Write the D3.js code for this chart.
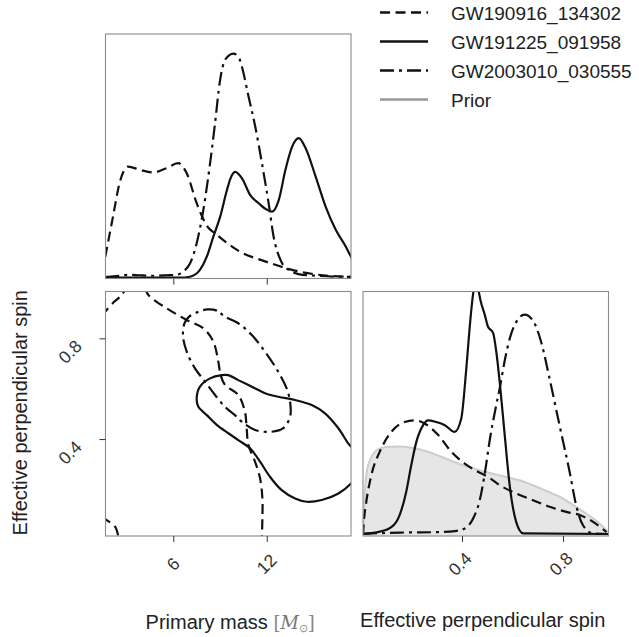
<!DOCTYPE html>
<meta charset="utf-8">
<style>
  body { margin: 0; background: #fff; }
  svg { font-family: "Liberation Sans", Arial, sans-serif; }
  .box { fill: none; stroke: #8a8a8a; stroke-width: 1.1px; }
  .tick line { stroke: #333; }
  .curve { fill: none; stroke: #111; stroke-width: 2.2px; stroke-linecap: butt; }
  .label { fill: #222; font-size: 20px; }
  .legtext { fill: #222; font-size: 19px; }
  .ticklab { fill: #333; font-size: 17.5px; }
</style>

<body>
  <script src="https://d3js.org/d3.v7.min.js"></script>
  <script>
    // event names and ticks
    var events = ["GW190916_134302", "GW191225_091958", "GW2003010_030555"];
    var massTicks = [6, 12];
    var spinTicks = [0.4, 0.8];

    // primary mass marginals [mass, density]
    var mass190916 = [[1.63, .088], [2.12, .25], [2.55, .39], [3.09, .457], [3.84, .444], [4.70, .433],
      [5.57, .451], [6.31, .471], [6.86, .43], [7.5, .307], [7.8, .26], [8.15, .215], [8.75, .18],
      [9.33, .15], [10.04, .118], [10.4, .104], [11.47, .078], [12.55, .055], [13.63, .034],
      [15.33, .014], [17.45, .005]];
    var mass191225 = [[1.63, .002], [6.42, .002], [7.07, .006], [7.71, .034], [8.15, .088], [8.57, .17],
      [9.0, .25], [9.44, .36], [9.65, .405], [9.97, .435], [10.4, .41], [10.94, .34], [11.48, .307],
      [12.02, .28], [12.34, .273], [12.77, .32], [13.2, .444], [13.63, .539], [14.06, .574],
      [14.49, .533], [15.14, .416], [15.78, .293], [16.43, .198], [17.07, .13], [17.45, .082]];
    var mass2003010 = [[1.63, .005], [2.55, .01], [3.2, .014], [3.84, .012], [4.68, .01], [5.57, .012],
      [6.21, .014], [6.7, .03], [7.07, .06], [7.5, .143], [7.93, .28], [8.36, .47], [8.68, .635],
      [9.0, .81], [9.33, .895], [9.85, .92], [10.2, .905], [10.4, .867], [10.83, .744], [11.26, .621],
      [11.69, .471], [12.12, .307], [12.44, .17], [12.88, .075], [13.41, .034], [14.28, .014],
      [17.45, .005]];

    // effective perpendicular spin marginals [spin, density]
    var spin190916 = [[0.008, 0], [0.012, .06], [0.021, .134], [0.041, .244], [0.074, .34], [0.12, .422],
      [0.173, .463], [0.213, .47], [0.252, .457], [0.305, .41], [0.358, .34], [0.411, .292],
      [0.463, .258], [0.503, .237], [0.549, .203], [0.615, .169], [0.681, .141], [0.747, .114],
      [0.813, .093], [0.866, .08], [0.919, .052], [0.972, .01]];
    var spin191225 = [[0.008, .003], [0.067, .01], [0.12, .03], [0.153, .08], [0.179, .175], [0.199, .285],
      [0.219, .38], [0.246, .45], [0.265, .47], [0.298, .463], [0.332, .45], [0.371, .422],
      [0.397, .477], [0.417, .683], [0.431, .86], [0.444, .99], [0.455, 1.04], [0.466, 1.0],
      [0.474, .96], [0.49, .905], [0.503, .855], [0.523, .83], [0.536, .75], [0.549, .63],
      [0.569, .41], [0.589, .2], [0.615, .05], [0.642, .005], [0.98, .002]];
    var spin2003010 = [[0.008, .003], [0.155, .008], [0.313, .01], [0.372, .014], [0.411, .025],
      [0.444, .066], [0.47, .14], [0.49, .25], [0.51, .39], [0.535, .53], [0.549, .6], [0.57, .72],
      [0.59, .81], [0.615, .875], [0.648, .905], [0.681, .88], [0.714, .79], [0.747, .64],
      [0.786, .45], [0.826, .258], [0.852, .12], [0.879, .038], [0.919, .004], [0.98, .002]];
    var spinPrior = [[0.008, 0], [0.012, .1], [0.017, .2], [0.025, .27], [0.04, .315], [0.067, .35],
      [0.1, .36], [0.15, .362], [0.2, .357], [0.252, .345], [0.318, .32], [0.384, .292], [0.45, .27],
      [0.5, .256], [0.562, .24], [0.642, .218], [0.721, .185], [0.8, .148], [0.866, .104],
      [0.919, .066], [0.95, .04], [0.972, .018], [0.98, .01]];

    // 2D credible contours [mass, spin]
    var contour190916a = [[1.4, 0.89], [1.61, 0.905], [2.2, 0.945], [2.69, 0.972], [2.95, 1.0]];
    var contour190916b = [[4.2, 1.0], [4.4, 0.972], [5.58, 0.919], [6.86, 0.873], [7.93, 0.84],
      [8.57, 0.787], [8.89, 0.707], [9.04, 0.654], [9.32, 0.615], [10.17, 0.575], [10.6, 0.508],
      [10.71, 0.443], [10.82, 0.376], [11.25, 0.31], [11.57, 0.244], [11.72, 0.164], [11.72, 0.085],
      [11.68, 0.0]];
    var contour190916c = [[1.4, 0.09], [1.72, 0.078], [2.26, 0.052], [2.47, 0.012], [2.5, 0.0]];
    var contour191225 = [[9.11, 0.654], [8.36, 0.641], [7.71, 0.608], [7.5, 0.562], [7.61, 0.528],
      [8.15, 0.495], [8.79, 0.456], [9.53, 0.423], [10.17, 0.396], [10.93, 0.363], [11.57, 0.31],
      [12.21, 0.25], [12.96, 0.197], [13.82, 0.164], [14.57, 0.151], [15.53, 0.158], [16.6, 0.184],
      [17.41, 0.224], [17.8, 0.26], [18.0, 0.32], [17.8, 0.36], [17.41, 0.37], [16.6, 0.443],
      [15.74, 0.502], [14.89, 0.535], [13.82, 0.555], [12.74, 0.568], [11.89, 0.582], [11.04, 0.608],
      [10.17, 0.634], [9.53, 0.654]];
    var contour2003010 = [[9.32, 0.886], [8.8, 0.91], [8.2, 0.915], [7.6, 0.905], [7.0, 0.885],
      [6.72, 0.86], [6.62, 0.81], [6.86, 0.747], [7.39, 0.681], [8.04, 0.628], [8.68, 0.575],
      [9.32, 0.528], [9.96, 0.495], [10.39, 0.469], [11.25, 0.436], [12.32, 0.429], [13.06, 0.443],
      [13.5, 0.489], [13.5, 0.548], [13.28, 0.601], [12.74, 0.667], [11.89, 0.747], [11.04, 0.813],
      [10.17, 0.86]];

    // table built from the arrays above
    var series = [
      { name: events[0], dash: "10,5.5", mass: mass190916, spin: spin190916,
        open: [contour190916a, contour190916b, contour190916c], closed: [] },
      { name: events[1], dash: null, mass: mass191225, spin: spin191225,
        open: [], closed: [contour191225] },
      { name: events[2], dash: "14,5,3,5", mass: mass2003010, spin: spin2003010,
        open: [], closed: [contour2003010] }
    ];

    var width = 639, height = 637;

    // panel boxes
    var pTop = { x0: 105.5, x1: 351, y0: 34, y1: 278.5 },
      pBL = { x0: 105.5, x1: 351, y0: 291.5, y1: 536 },
      pBR = { x0: 363, x1: 608.5, y0: 291.5, y1: 536 };

    // scales
    var xMass = d3.scaleLinear().domain([1.645, 17.41]).range([pTop.x0, pTop.x1]);
    var yTop = d3.scaleLinear().domain([0, 1]).range([pTop.y1 - 0.3, pTop.y0]);
    var ySpin = d3.scaleLinear().domain([0.015, 0.986]).range([pBL.y1, pBL.y0]);
    var xSpin = d3.scaleLinear().domain([0.008, 0.98]).range([pBR.x0, pBR.x1]);
    var yBR = d3.scaleLinear().domain([0, 1]).range([pBR.y1 - 1.5, pBR.y0]);

    var svg = d3.select("body").append("svg")
      .attr("width", width)
      .attr("height", height);

    var defs = svg.append("defs");
    [["clipTop", pTop], ["clipBL", pBL], ["clipBR", pBR]].forEach(function(c) {
      defs.append("clipPath").attr("id", c[0]).append("rect")
        .attr("x", c[1].x0).attr("y", c[1].y0)
        .attr("width", c[1].x1 - c[1].x0).attr("height", c[1].y1 - c[1].y0);
    });

    // top panel: mass marginals
    var gTop = svg.append("g").attr("clip-path", "url(#clipTop)");
    var massLine = d3.line()
      .x(function(d) { return xMass(d[0]); })
      .y(function(d) { return yTop(d[1]); })
      .curve(d3.curveMonotoneX);
    gTop.selectAll("path").data(series).enter().append("path")
      .attr("class", "curve")
      .attr("stroke-dasharray", function(d) { return d.dash; })
      .attr("d", function(d) { return massLine(d.mass); });

    // bottom left: contours
    var gBL = svg.append("g").attr("clip-path", "url(#clipBL)");
    var openLine = d3.line()
      .x(function(d) { return xMass(d[0]); })
      .y(function(d) { return ySpin(d[1]); })
      .curve(d3.curveCatmullRom);
    var closedLine = d3.line()
      .x(function(d) { return xMass(d[0]); })
      .y(function(d) { return ySpin(d[1]); })
      .curve(d3.curveCatmullRomClosed);
    series.forEach(function(s) {
      s.open.forEach(function(c) {
        gBL.append("path").attr("class", "curve")
          .attr("stroke-dasharray", s.dash).attr("d", openLine(c));
      });
      s.closed.forEach(function(c) {
        gBL.append("path").attr("class", "curve")
          .attr("stroke-dasharray", s.dash).attr("d", closedLine(c));
      });
    });

    // bottom right: spin marginals with prior
    var gBR = svg.append("g").attr("clip-path", "url(#clipBR)");
    var priorArea = d3.area()
      .x(function(d) { return xSpin(d[0]); })
      .y0(yBR(0) + 2)
      .y1(function(d) { return yBR(d[1]); })
      .curve(d3.curveMonotoneX);
    var spinLine = d3.line()
      .x(function(d) { return xSpin(d[0]); })
      .y(function(d) { return yBR(d[1]); })
      .curve(d3.curveMonotoneX);
    gBR.append("path")
      .attr("d", priorArea(spinPrior))
      .attr("fill", "#e6e6e6");
    gBR.append("path")
      .attr("d", spinLine(spinPrior))
      .attr("fill", "none")
      .attr("stroke", "#cdcdcd")
      .attr("stroke-width", 2);
    gBR.selectAll("path.curve").data(series).enter().append("path")
      .attr("class", "curve")
      .attr("stroke-dasharray", function(d) { return d.dash; })
      .attr("d", function(d) { return spinLine(d.spin); });

    // frames
    [pTop, pBL, pBR].forEach(function(p) {
      svg.append("rect").attr("class", "box")
        .attr("x", p.x0).attr("y", p.y0)
        .attr("width", p.x1 - p.x0).attr("height", p.y1 - p.y0);
    });

    // axes (ticks only)
    function ticksOnly(g) {
      g.select(".domain").remove();
      g.selectAll("text").remove();
    }
    svg.append("g").attr("transform", "translate(0," + pTop.y1 + ")")
      .call(d3.axisBottom(xMass).tickValues(massTicks).tickSize(6)).call(ticksOnly);
    svg.append("g").attr("transform", "translate(0," + pBL.y1 + ")")
      .call(d3.axisBottom(xMass).tickValues(massTicks).tickSize(6)).call(ticksOnly);
    svg.append("g").attr("transform", "translate(" + pBL.x0 + ",0)")
      .call(d3.axisLeft(ySpin).tickValues(spinTicks).tickSize(6)).call(ticksOnly);
    svg.append("g").attr("transform", "translate(0," + pBR.y1 + ")")
      .call(d3.axisBottom(xSpin).tickValues(spinTicks).tickSize(6)).call(ticksOnly);

    // rotated tick labels
    function tickLabels(vals, px, py) {
      svg.append("g").selectAll("text").data(vals).enter().append("text")
        .attr("class", "ticklab")
        .attr("text-anchor", "middle")
        .attr("dominant-baseline", "central")
        .attr("transform", function(d) {
          return "translate(" + px(d) + "," + py(d) + ") rotate(-45)";
        })
        .text(function(d) { return d; });
    }
    tickLabels(massTicks, function(d) { return xMass(d); }, function() { return 564; });
    tickLabels(spinTicks, function(d) { return xSpin(d) - 2; }, function() { return 564; });
    tickLabels(spinTicks, function() { return 70; }, function(d) { return ySpin(d) + 13.5; });

    // axis labels
    var mLab = svg.append("text").attr("class", "label")
      .attr("x", (pBL.x0 + pBL.x1) / 2 + 2).attr("y", 628.5)
      .attr("text-anchor", "middle");
    mLab.append("tspan").text("Primary mass ");
    mLab.append("tspan").attr("fill", "#888").attr("font-family", "DejaVu Serif").attr("font-size", 18)
      .text("[");
    mLab.append("tspan").attr("fill", "#777").attr("font-family", "DejaVu Serif")
      .attr("font-style", "italic").attr("font-size", 18).text("M");
    mLab.append("tspan").attr("fill", "#888").attr("font-size", 11).attr("dy", 3).text("⊙");
    mLab.append("tspan").attr("fill", "#888").attr("font-family", "DejaVu Serif").attr("font-size", 18)
      .attr("dy", -3).text("]");

    svg.append("text").attr("class", "label")
      .attr("x", (pBR.x0 + pBR.x1) / 2 - 3).attr("y", 627)
      .attr("text-anchor", "middle")
      .text("Effective perpendicular spin");

    svg.append("text").attr("class", "label")
      .attr("font-size", 19)
      .attr("text-anchor", "middle")
      .attr("transform", "translate(27," + ((pBL.y0 + pBL.y1) / 2 - 1) + ") rotate(-90)")
      .text("Effective perpendicular spin");

    // legend
    var legendItems = series.map(function(s) { return { name: s.name, dash: s.dash, color: "#111" }; })
      .concat([{ name: "Prior", dash: null, color: "#999" }]);
    var leg = svg.append("g").selectAll("g").data(legendItems).enter().append("g")
      .attr("transform", function(d, i) { return "translate(380," + (12.5 + i * 29) + ")"; });
    leg.append("line")
      .attr("x1", 0).attr("x2", 48)
      .attr("stroke", function(d) { return d.color; })
      .attr("stroke-width", 2.4)
      .attr("stroke-dasharray", function(d) { return d.dash; });
    leg.append("text").attr("class", "legtext")
      .attr("x", 71).attr("y", 7)
      .text(function(d) { return d.name; });
  </script>
</body>
